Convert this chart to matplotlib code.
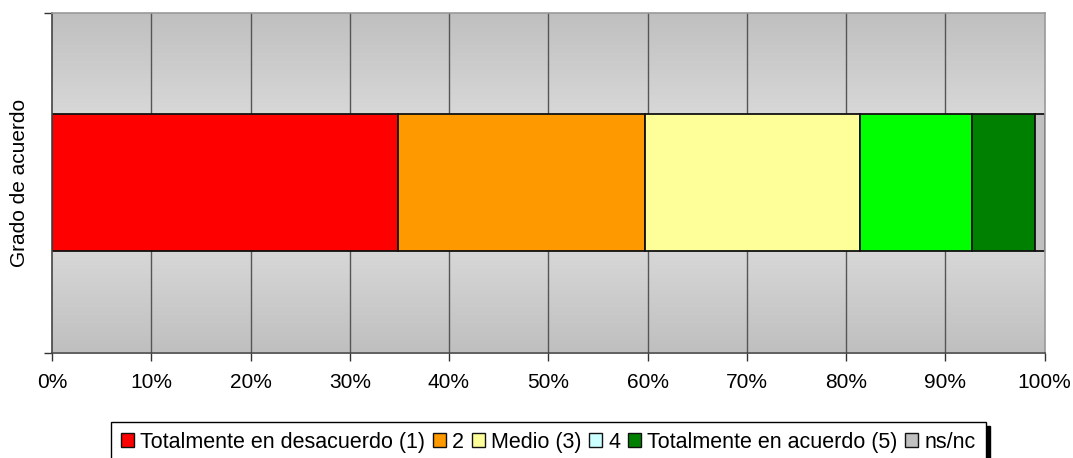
import matplotlib
matplotlib.use("Agg")
import matplotlib.pyplot as plt
import numpy as np
from matplotlib.patches import Patch

# Data
row_label = "Grado de acuerdo"
series_names = ["Totalmente en desacuerdo (1)", "2", "Medio (3)", "4",
                "Totalmente en acuerdo (5)", "ns/nc"]
series_values = [34.9, 24.8, 21.7, 11.3, 6.3, 1.0]
x_ticks = [0, 10, 20, 30, 40, 50, 60, 70, 80, 90, 100]
x_tick_labels = [f"{t}%" for t in x_ticks]

# Styles
bar_colors = ["#FF0000", "#FF9900", "#FFFF99", "#00FF00", "#008000", "#C0C0C0"]
legend_colors = ["#FF0000", "#FF9900", "#FFFF99", "#CCFFFF", "#008000", "#C0C0C0"]

plt.rcParams['font.family'] = ['Liberation Sans', 'DejaVu Sans']

fig = plt.figure(figsize=(10.73, 4.58), dpi=100)
ax = fig.add_axes([52/1073, 1-352.5/458, (1044.5-52)/1073, 340/458])

# gradient background: dark at top/bottom edges, light in the middle
grad = np.abs(np.linspace(-1, 1, 256))[:, None]
light = np.array([0.91, 0.91, 0.91])
dark = np.array([0.75, 0.75, 0.75])
img = light[None, None, :] * (1 - grad[..., None]) + dark[None, None, :] * grad[..., None]
ax.imshow(img, extent=[0, 100, -0.5, 0.5], aspect='auto', zorder=0,
          interpolation='bilinear', origin='lower')

ax.set_xlim(0, 100)
ax.set_ylim(-0.5, 0.5)

for xv in x_ticks[1:-1]:
    ax.axvline(xv, color="#555555", lw=1.0, zorder=1)

left = 0.0
for name, val, col in zip(series_names, series_values, bar_colors):
    ax.barh(0, val, left=left, height=0.403, color=col, edgecolor="#111111",
            linewidth=1.3, zorder=2)
    left += val

ax.set_xticks(x_ticks)
ax.set_xticklabels(x_tick_labels, fontsize=15)
ax.set_yticks([-0.5, 0.5])
ax.set_yticklabels([])
ax.tick_params(axis='x', direction='out', length=6, width=1, color="#333333", pad=9)
ax.tick_params(axis='y', direction='out', length=6, width=1, color="#333333")
ax.set_ylabel(row_label, fontsize=15, labelpad=7)

for s in ['left', 'bottom']:
    ax.spines[s].set_color("#444444")
    ax.spines[s].set_linewidth(1.2)
for s in ['top', 'right']:
    ax.spines[s].set_color("#999999")
    ax.spines[s].set_linewidth(1.2)

handles = [Patch(facecolor=c, edgecolor="#111111", linewidth=1.0) for c in legend_colors]
leg = fig.legend(handles, series_names, loc='upper center',
                 bbox_to_anchor=(548.5/1073, 1-422/458), ncol=6, fontsize=15.5,
                 frameon=True, fancybox=False,
                 shadow={'color': 'black', 'alpha': 1.0, 'ox': 3, 'oy': -3},
                 handlelength=0.6, handleheight=0.6, handletextpad=0.3,
                 columnspacing=0.35, borderpad=0.45, borderaxespad=0)
leg.get_frame().set_edgecolor("black")
leg.get_frame().set_linewidth(1.0)

fig.savefig("out.png", dpi=100)
